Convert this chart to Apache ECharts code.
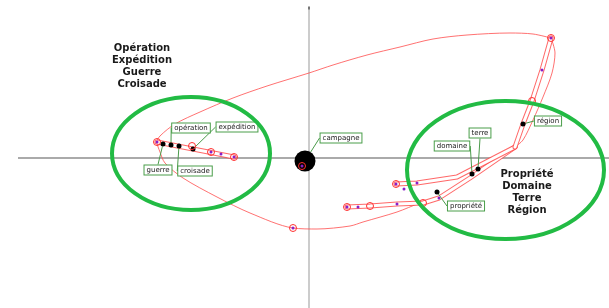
<!DOCTYPE html>
<html>
<head>
<meta charset="utf-8">
<script src="https://cdn.jsdelivr.net/npm/echarts@6/dist/echarts.min.js"></script>
<style>
html, body { margin: 0; padding: 0; background: #fff; }
#chart { width: 609px; height: 308px; }
</style>
</head>
<body>
<div id="chart"></div>
<script>
// mots (points noirs)
const mots = ['guerre', 'opération', 'croisade', 'expédition', 'campagne', 'domaine', 'terre', 'propriété', 'région'];
const motsX = [-1.46, -1.38, -1.30, -1.16, -0.04, 1.63, 1.69, 1.28, 2.14];
const motsY = [0.14, 0.13, 0.12, 0.09, -0.03, -0.16, -0.11, -0.34, 0.34];

// périodes : cercles rouges et centres violets
const periodesCercles = [[-1.52, 0.16], [-1.17, 0.12], [-0.98, 0.06], [-0.75, 0.01], [-0.07, -0.08], [-0.16, -0.70],
  [0.38, -0.49], [0.61, -0.48], [0.87, -0.26], [1.14, -0.45], [2.23, 0.57], [2.42, 1.20]];
const periodesCentres = [[-1.52, 0.16], [-0.98, 0.06], [-0.88, 0.04], [-0.75, 0.01], [-0.07, -0.08], [-0.16, -0.70],
  [0.38, -0.49], [0.49, -0.49], [0.87, -0.26], [0.88, -0.46], [0.95, -0.31], [1.08, -0.25], [1.30, -0.40],
  [2.33, 0.88], [2.42, 1.20]];

// trajectoire
const trajet = [[2.42, 1.20], [2.24, 1.24], [2.01, 1.25], [1.58, 1.23], [1.24, 1.19], [0.91, 1.11], [0.58, 1.03],
  [0.24, 0.93], [0.00, 0.85], [-0.42, 0.72], [-0.76, 0.60], [-1.09, 0.46], [-1.34, 0.34], [-1.49, 0.22],
  [-1.52, 0.16], [-1.49, 0.06], [-1.44, -0.05], [-1.26, -0.20], [-0.92, -0.39], [-0.59, -0.55], [-0.16, -0.70],
  [0.08, -0.71], [0.41, -0.68], [0.54, -0.64], [0.88, -0.54], [1.11, -0.45], [1.28, -0.40]];
const trajetDroit = [[2.42, 1.20], [2.46, 1.05], [2.43, 0.85], [2.34, 0.61], [2.24, 0.38], [2.14, 0.18], [2.06, 0.11]];
const tubeGauche = [[-1.52, 0.16], [-0.75, 0.01]];
const tubeBas = [[0.38, -0.49], [0.61, -0.48], [0.88, -0.46], [1.14, -0.45], [1.30, -0.40], [1.61, -0.20], [2.06, 0.11]];
const tubeHaut = [[0.87, -0.26], [1.08, -0.25], [1.48, -0.19], [2.06, 0.11]];
const tubeVertical = [[2.06, 0.11], [2.14, 0.34], [2.23, 0.57], [2.33, 0.88], [2.42, 1.20]];

// groupes
const groupeGauche = ['Opération', 'Expédition', 'Guerre', 'Croisade'];
const groupeDroit = ['Propriété', 'Domaine', 'Terre', 'Région'];

// placement (en unités des axes / pixels)
const ellipses = [
  { cx: -1.18, cy: 0.045, rx: 0.79, ry: 0.565 },
  { cx: 1.965, cy: -0.12, rx: 0.985, ry: 0.69 }
];
const textesGroupes = [
  { lignes: groupeGauche, x: -1.67, y: 0.92 },
  { lignes: groupeDroit, x: 2.18, y: -0.345 }
];
const decalages = {
  'guerre': [-5, 26], 'opération': [20, -17], 'croisade': [16, 25], 'expédition': [44, -22],
  'campagne': [36, -23], 'domaine': [-20, -28], 'terre': [2, -36], 'propriété': [29, 14], 'région': [25, -3]
};

const rouge = '#ff4d4d';
const chart = echarts.init(document.getElementById('chart'));

function tube(data) {
  return [
    { type: 'line', data, symbol: 'none', z: 2, silent: true,
      lineStyle: { color: rouge, width: 5, cap: 'round', join: 'round', opacity: 0.85 } },
    { type: 'line', data, symbol: 'none', z: 2, silent: true,
      lineStyle: { color: '#fff', width: 3, cap: 'round', join: 'round' } }
  ];
}

chart.setOption({
  animation: false,
  grid: { left: 0, right: 0, top: 0, bottom: 0 },
  xAxis: { type: 'value', min: -3.09, max: 3.00, show: false },
  yAxis: { type: 'value', min: -1.50, max: 1.58, show: false },
  series: [
    { type: 'line', data: [[-2.91, 0], [3.00, 0]], symbol: 'none', z: 1, silent: true,
      lineStyle: { color: '#aaa', width: 2 } },
    { type: 'line', data: [[0, -1.50], [0, 1.50]], symbol: 'none', z: 1, silent: true,
      lineStyle: { color: '#ccc', width: 2 } },
    { type: 'scatter', data: [[0, 1.50]], symbol: 'rect', symbolSize: [2, 3], z: 1, silent: true,
      itemStyle: { color: '#777', opacity: 1 } },
    { type: 'line', data: trajet, symbol: 'none', smooth: 0.3, z: 2, silent: true,
      lineStyle: { color: rouge, width: 1, opacity: 0.8 } },
    { type: 'line', data: trajetDroit, symbol: 'none', smooth: 0.3, z: 2, silent: true,
      lineStyle: { color: rouge, width: 1, opacity: 0.8 } },
    ...tube(tubeGauche),
    ...tube(tubeBas),
    ...tube(tubeHaut),
    ...tube(tubeVertical),
    {
      type: 'scatter', z: 5,
      data: mots.map((m, i) => ({ name: m, value: [motsX[i], motsY[i]] })),
      symbolSize: (v, p) => (p.name === 'campagne' ? 21 : 5),
      itemStyle: { color: '#000', opacity: 1 },
      label: {
        show: true, position: 'inside', formatter: '{b}',
        fontSize: 7, fontFamily: 'DejaVu Sans', color: '#1a1a1a',
        backgroundColor: '#fff', borderColor: '#4a9e4a', borderWidth: 1, padding: [1, 2, 1, 2]
      },
      labelLayout: p => {
        const d = decalages[mots[p.dataIndex]];
        return { dx: d[0], dy: d[1] };
      },
      labelLine: { show: true, lineStyle: { color: '#4a9a4a', width: 1 } }
    },
    { type: 'scatter', data: periodesCercles, symbolSize: 7, z: 6, silent: true,
      itemStyle: { color: 'rgba(255,255,255,0)', borderColor: '#ff3030', borderWidth: 1, opacity: 1 } },
    { type: 'scatter', data: periodesCentres, symbolSize: 3, z: 7, silent: true,
      itemStyle: { color: '#8a1ec8', opacity: 1 } }
  ]
});

function annotations() {
  const g = [];
  ellipses.forEach(e => {
    const c = chart.convertToPixel({ gridIndex: 0 }, [e.cx, e.cy]);
    const r = chart.convertToPixel({ gridIndex: 0 }, [e.cx + e.rx, e.cy + e.ry]);
    g.push({
      type: 'ellipse', z: 10, silent: true,
      shape: { cx: c[0], cy: c[1], rx: r[0] - c[0], ry: c[1] - r[1] },
      style: { fill: 'none', stroke: '#22bb44', lineWidth: 4 }
    });
  });
  textesGroupes.forEach(t => {
    const c = chart.convertToPixel({ gridIndex: 0 }, [t.x, t.y]);
    g.push({
      type: 'text', z: 11, silent: true, x: c[0], y: c[1],
      style: {
        text: t.lignes.join('\n'), font: 'bold 10px "DejaVu Sans"', fill: '#1a1a1a',
        align: 'center', verticalAlign: 'middle', lineHeight: 12
      }
    });
  });
  chart.setOption({ graphic: g });
}
annotations();
</script>
</body>
</html>
